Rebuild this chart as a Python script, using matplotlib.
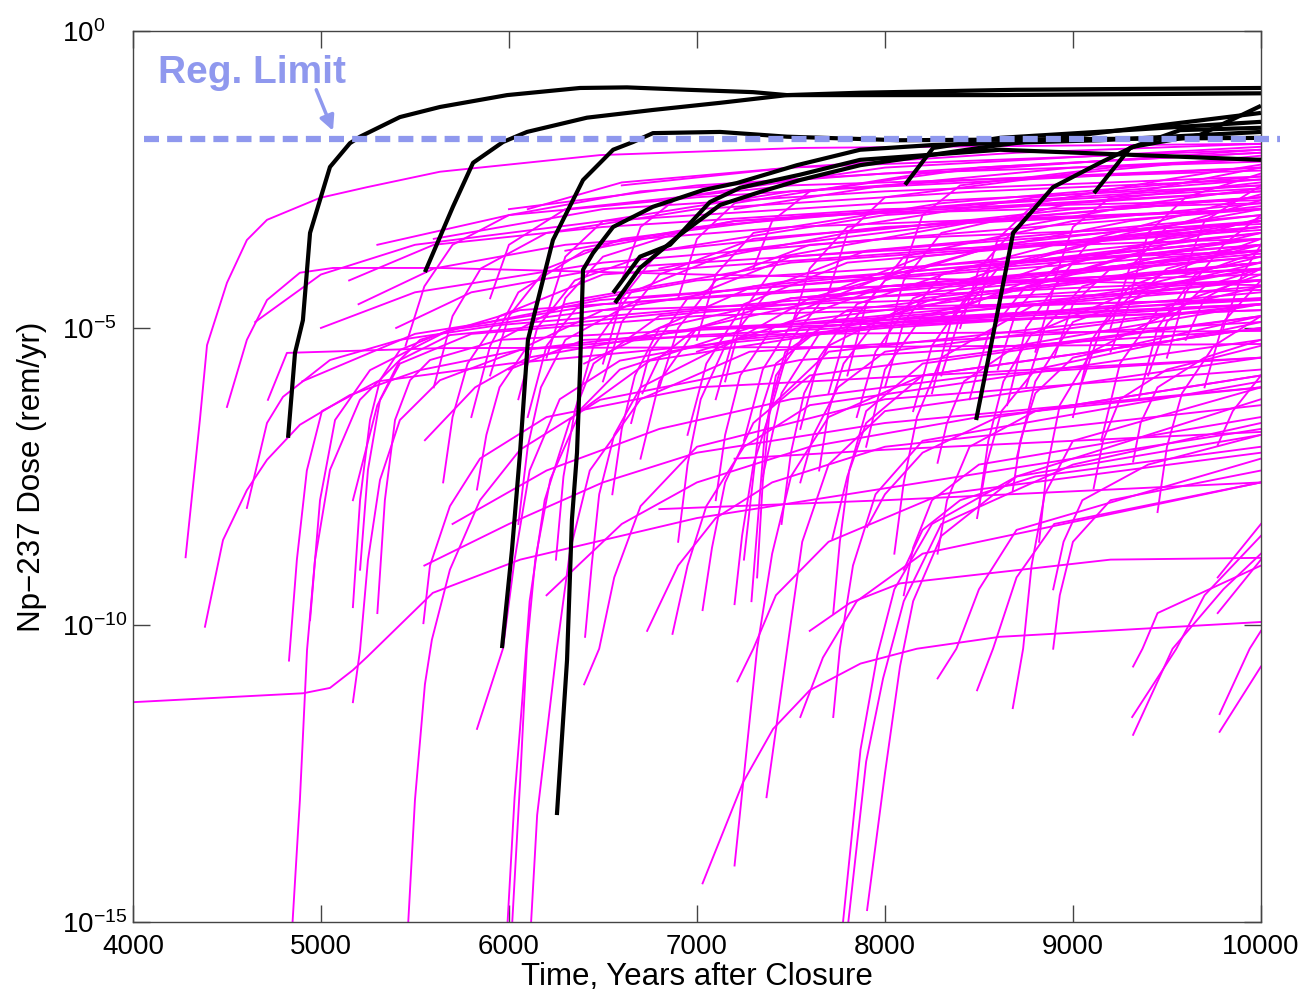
import numpy as np
import matplotlib
matplotlib.use("Agg")
import matplotlib.pyplot as plt
from matplotlib.ticker import FixedLocator, NullLocator, FixedFormatter

plt.rcParams['font.family'] = ['Liberation Sans', 'DejaVu Sans']
plt.rcParams['mathtext.fontset'] = 'custom'
plt.rcParams['mathtext.rm'] = 'Liberation Sans'
plt.rcParams['mathtext.it'] = 'Liberation Sans:italic'
plt.rcParams['mathtext.bf'] = 'Liberation Sans:bold'

# each run is a list of (year, log10 dose in rem/yr)

# realizations that exceed the limit (black)
black_runs = [
    [(4825, -6.85), (4862, -5.42), (4904, -4.87), (4942, -3.40), (5048, -2.29), (5154, -1.89), (5208, -1.78),
     (5420, -1.45), (5633, -1.28), (5990, -1.08), (6378, -0.96), (6628, -0.95), (6947, -0.99), (7298, -1.03),
     (7479, -1.08), (8600, -1.08), (10000, -1.05)],
    [(5553, -4.06), (5702, -2.96), (5809, -2.22), (5968, -1.87), (6096, -1.70), (6415, -1.46), (6766, -1.33),
     (7123, -1.21), (7479, -1.08), (7868, -1.04), (8700, -0.99), (10000, -0.96)],
    [(5963, -10.39), (6016, -8.74), (6059, -7.10), (6101, -5.20), (6234, -3.52), (6394, -2.51), (6554, -2.0),
     (6660, -1.87), (6766, -1.72), (7123, -1.70), (7479, -1.78), (8080, -1.84), (10000, -1.80)],
    [(6255, -13.2), (6309, -10.59), (6335, -8.23), (6362, -7.10), (6378, -5.71), (6394, -4.02), (6447, -3.74),
     (6554, -3.30), (6766, -2.96), (7032, -2.68), (7213, -2.56), (7532, -2.26), (7868, -2.0), (8256, -1.92),
     (9144, -1.84), (10000, -1.70)],
    [(6554, -4.41), (6697, -3.80), (6857, -3.60), (7069, -2.88), (7229, -2.64), (7548, -2.42), (7868, -2.17),
     (8612, -2.0), (10000, -2.17)],
    [(6564, -4.58), (6697, -3.99), (6910, -3.43), (7123, -2.93), (7336, -2.71), (7548, -2.51), (7868, -2.26),
     (8612, -1.92), (10000, -1.38)],
    [(8107, -2.59), (8256, -1.97), (8612, -1.80), (10000, -1.53)],
    [(8485, -6.55), (8570, -5.20), (8682, -3.40), (8894, -2.63), (9144, -2.22), (9320, -1.95), (9676, -1.75),
     (10000, -1.26)],
    [(9112, -2.73), (9304, -1.97), (9570, -1.67), (10000, -1.63)],
]

# early releases, left part of the plot
magenta_left = [
    [(4000, -11.3), (4905, -11.15), (5048, -11.06), (5170, -10.76), (5245, -10.54), (5595, -9.46), (6060, -8.9),
     (7000, -8.2), (8600, -7.4), (10000, -6.7)],
    [(4280, -8.86), (4356, -6.55), (4394, -5.29), (4500, -4.24), (4606, -3.52), (4713, -3.18), (4995, -2.81),
     (5245, -2.63), (5633, -2.37), (6484, -2.09), (7548, -1.97), (10000, -1.9)],
    [(4383, -10.03), (4479, -8.57), (4606, -7.73), (4713, -7.22), (4888, -6.63), (5154, -6.13), (5527, -5.71),
     (6059, -5.37), (7016, -5.12), (8612, -4.87), (10000, -4.7)],
    [(4500, -6.33), (4606, -5.2), (4713, -4.53), (4888, -4.07), (5064, -3.99), (5633, -3.99), (7016, -4.1),
     (10000, -4.28)],
    [(4606, -8.03), (4713, -6.6), (4798, -6.16), (5048, -5.54), (5420, -5.2), (5952, -4.95), (7548, -4.53),
     (10000, -4.19)],
    [(4718, -6.21), (4819, -5.42), (5633, -5.34), (7867, -5.32), (10000, -5.27)],
    [(4830, -16.0), (4888, -12.95), (4926, -10.42), (4968, -8.91), (5048, -7.39), (5207, -6.21), (5527, -5.2),
     (6059, -4.7), (7548, -4.36), (10000, -4.02)],
    [(4830, -10.6), (4872, -8.9), (4925, -7.4), (5005, -6.4), (5300, -5.9), (6000, -5.6), (8000, -5.0),
     (10000, -4.6)],
    [(4942, -9.92), (4995, -7.9), (5075, -6.55), (5261, -5.71), (5686, -5.03), (6484, -4.53), (10000, -3.69)],
    [(5170, -9.7), (5208, -7.9), (5261, -6.55), (5314, -5.88), (5420, -5.37), (5686, -5.03), (6484, -4.7),
     (10000, -4.36)],
    [(5208, -9.07), (5250, -7.39), (5314, -6.21), (5420, -5.54), (5686, -5.12), (7016, -4.7), (10000, -4.53)],
    [(5300, -9.8), (5340, -7.9), (5394, -6.55), (5474, -5.88), (5580, -5.54), (5952, -5.2), (10000, -4.53)],
    [(5447, -16.0), (5500, -12.95), (5553, -11.0), (5590, -10.25), (5686, -9.07), (5846, -7.9), (6059, -7.05),
     (6484, -6.21), (7548, -5.54), (10000, -5.03)],
    [(5170, -11.3), (5208, -10.42), (5250, -8.91), (5314, -7.56), (5420, -6.55), (5633, -5.88), (6059, -5.37),
     (7016, -5.03), (10000, -4.7)],
    [(5170, -7.9), (5300, -6.3), (5420, -5.6), (5800, -5.1), (7000, -4.8), (10000, -4.5)],
    [(5545, -9.97), (5580, -9.0), (5686, -8.0), (5846, -7.2), (6200, -6.5), (7000, -6.0), (10000, -5.5)],
    [(5553, -6.89), (5820, -6.0), (6100, -5.5), (7000, -5.0), (10000, -4.6)],
]

# releases from the middle of the period
magenta_mid = [
    [(5830, -11.75), (5968, -10.4), (6030, -8.9), (6110, -7.4), (6270, -6.2), (6590, -5.55), (7550, -5.0),
     (10000, -4.5)],
    [(5975, -16.0), (6030, -12.9), (6070, -11.3), (6110, -9.6), (6190, -7.9), (6325, -6.55), (6590, -5.7),
     (7280, -5.0), (10000, -4.2)],
    [(6000, -16.0), (6060, -12.6), (6095, -10.4), (6140, -8.9), (6220, -7.55), (6380, -6.4), (6750, -5.55),
     (8080, -4.9), (10000, -4.6)],
    [(6100, -16.0), (6150, -13.2), (6255, -10.4), (6325, -8.75), (6430, -7.4), (6700, -6.2), (7280, -5.4),
     (10000, -4.9)],
    [(6400, -11.0), (6480, -10.4), (6560, -9.2), (6700, -8.0), (7000, -7.0), (8000, -6.2), (10000, -5.7)],
    [(7030, -14.35), (7245, -12.65), (7405, -11.75), (7600, -11.1), (7870, -10.65), (8170, -10.4), (8610, -10.2),
     (10000, -9.95)],
    [(7200, -14.05), (7320, -10.4), (7400, -8.8), (7500, -7.5), (7700, -6.5), (8200, -5.8), (10000, -5.0)],
    [(7370, -12.9), (7480, -10.4), (7560, -8.6), (7700, -7.3), (8000, -6.4), (10000, -5.5)],
    [(7215, -10.95), (7300, -10.4), (7420, -9.5), (7700, -8.6), (8300, -7.8), (10000, -7.1)],
    [(7550, -11.55), (7670, -10.55), (7850, -9.6), (8200, -8.8), (10000, -7.6)],
    [(7725, -11.55), (7760, -10.4), (7830, -9.0), (7950, -7.8), (8200, -6.9), (10000, -5.9)],
    [(7745, -16.0), (7870, -12.1), (7960, -10.5), (8050, -9.4), (8250, -8.3), (8700, -7.5), (10000, -6.8)],
    [(7770, -16.0), (7900, -12.3), (7990, -10.9), (8100, -9.6), (8300, -8.3), (9000, -7.3), (10000, -6.6)],
    [(7905, -14.8), (8000, -12.5), (8080, -10.7), (8150, -9.6), (8300, -8.5), (8700, -7.5), (10000, -6.2)],
    [(5830, -7.72), (5880, -6.8), (5950, -6.0), (6100, -5.3), (6500, -4.7), (7500, -4.2), (10000, -3.6)],
    [(6405, -10.2), (6440, -9.0), (6480, -7.8), (6560, -6.8), (6700, -6.0), (7200, -5.2), (10000, -4.4)],
    [(6735, -10.1), (6900, -9.0), (7100, -8.2), (7400, -7.6), (8000, -7.0), (10000, -6.3)],
    [(6870, -10.15), (6950, -9.0), (7050, -8.0), (7250, -7.0), (7600, -6.3), (10000, -5.2)],
    [(7030, -9.75), (7080, -8.7), (7150, -7.6), (7300, -6.6), (7600, -5.8), (10000, -4.8)],
    [(7200, -9.65), (7240, -8.5), (7300, -7.3), (7400, -6.3), (7700, -5.4), (10000, -4.6)],
    [(7725, -9.8), (7760, -8.6), (7810, -7.4), (7900, -6.4), (8200, -5.6), (10000, -4.8)],
    [(6710, -6.1), (6800, -5.5), (7000, -5.0), (7500, -4.5), (10000, -3.8)],
    [(7550, -7.6), (7620, -6.8), (7750, -6.0), (8000, -5.4), (10000, -4.6)],
    [(7720, -8.55), (7800, -7.5), (7900, -6.6), (8200, -5.8), (10000, -5.0)],
    [(7290, -9.6), (7330, -8.0), (7360, -6.8), (7420, -5.8), (7600, -5.0), (10000, -4.2)],
    [(7320, -9.2), (7350, -7.6), (7390, -6.3), (7470, -5.4), (7800, -4.7), (10000, -3.9)],
    [(7250, -8.9), (7300, -7.5), (7340, -6.4), (7420, -5.6), (7700, -4.9), (10000, -4.3)],
    [(5550, -9.0), (6000, -8.3), (6500, -7.6), (7000, -7.1), (8000, -6.6), (10000, -6.0)],
    [(5700, -8.3), (6200, -7.4), (6800, -6.7), (7500, -6.2), (8500, -5.8), (10000, -5.5)],
    [(6200, -9.5), (6600, -8.3), (7000, -7.6), (7600, -7.0), (8500, -6.5), (10000, -6.0)],
    [(7600, -10.1), (7814, -9.63), (8080, -9.3), (9200, -8.9), (10000, -8.87)],
    [(6800, -8.05), (8000, -7.9), (9000, -7.75), (10000, -7.6)],
    [(7200, -7.2), (8000, -7.05), (9000, -6.9), (10000, -6.75)],
]

# late releases, right part of the plot
magenta_right = [
    [(8280, -10.9), (8380, -10.4), (8500, -9.4), (8700, -8.4), (10000, -7.2)],
    [(8490, -11.1), (8575, -10.4), (8700, -9.2), (8900, -8.3), (10000, -7.6)],
    [(8680, -11.4), (8735, -10.4), (8780, -9.0), (8850, -7.8), (9000, -6.9), (10000, -6.0)],
    [(9320, -10.7), (9370, -10.4), (9450, -9.8), (10000, -9.0)],
    [(9315, -11.55), (9550, -10.4), (9700, -9.5), (10000, -8.5)],
    [(9320, -11.85), (9530, -10.4), (9800, -9.4), (10000, -8.8)],
    [(9780, -11.5), (9940, -10.4), (10000, -10.1)],
    [(9780, -11.8), (10000, -10.7)],
    [(7905, -8.35), (8000, -7.8), (8200, -7.1), (8600, -6.5), (10000, -5.8)],
    [(8100, -9.07), (8200, -8.4), (8400, -7.9), (8800, -7.5), (10000, -7.0)],
    [(8100, -9.5), (8150, -8.7), (8250, -7.9), (8500, -7.3), (10000, -6.5)],
    [(8280, -7.27), (8330, -6.6), (8420, -5.9), (8700, -5.3), (10000, -4.6)],
    [(8280, -8.8), (8330, -7.9), (8450, -7.0), (8800, -6.4), (10000, -5.8)],
    [(8490, -8.2), (8540, -7.3), (8620, -6.4), (8800, -5.7), (10000, -4.9)],
    [(8680, -7.73), (8720, -6.9), (8800, -6.1), (9000, -5.5), (10000, -4.8)],
    [(8895, -9.4), (8950, -8.6), (9050, -7.9), (9400, -7.3), (10000, -6.8)],
    [(8895, -10.4), (8930, -9.5), (9000, -8.6), (9200, -7.9), (10000, -7.4)],
    [(9110, -7.7), (9160, -6.9), (9250, -6.2), (9500, -5.7), (10000, -5.3)],
    [(9320, -7.25), (9360, -6.6), (9450, -6.0), (9700, -5.5), (10000, -5.2)],
    [(9770, -6.97), (9850, -6.4), (10000, -5.8)],
    [(9770, -9.2), (10000, -8.3)],
    [(9770, -9.8), (10000, -8.9)],
]

# runs that level off in the band just under the limit
magenta_top = [
    [(5450, -5.3), (5550, -4.3), (5700, -3.6), (6000, -3.1), (6700, -2.7), (8000, -2.4), (10000, -2.2)],
    [(5600, -6.0), (5700, -4.8), (5850, -4.0), (6200, -3.4), (7000, -3.0), (8500, -2.7), (10000, -2.5)],
    [(5800, -6.5), (5900, -5.3), (6050, -4.4), (6400, -3.7), (7200, -3.2), (10000, -2.7)],
    [(5900, -5.8), (6000, -4.8), (6200, -4.0), (6600, -3.5), (7600, -3.1), (10000, -2.9)],
    [(6050, -6.2), (6150, -5.0), (6350, -4.2), (6800, -3.7), (8000, -3.3), (10000, -3.0)],
    [(6200, -5.5), (6300, -4.5), (6500, -3.8), (7000, -3.3), (8500, -2.9), (10000, -2.6)],
    [(6350, -6.4), (6450, -5.3), (6650, -4.4), (7200, -3.7), (8500, -3.2), (10000, -3.0)],
    [(6500, -5.9), (6600, -4.9), (6800, -4.1), (7300, -3.5), (10000, -2.8)],
    [(6650, -6.6), (6750, -5.4), (6950, -4.5), (7500, -3.8), (10000, -3.2)],
    [(6800, -6.0), (6900, -5.0), (7100, -4.2), (7600, -3.6), (10000, -3.0)],
    [(6950, -6.8), (7050, -5.6), (7250, -4.6), (7800, -3.9), (10000, -3.3)],
    [(7100, -6.2), (7200, -5.1), (7400, -4.3), (7900, -3.7), (10000, -3.1)],
    [(7250, -6.9), (7350, -5.7), (7550, -4.7), (8100, -4.0), (10000, -3.4)],
    [(7400, -6.3), (7500, -5.2), (7700, -4.4), (8200, -3.8), (10000, -3.2)],
    [(7550, -6.7), (7650, -5.5), (7850, -4.6), (8400, -4.0), (10000, -3.5)],
    [(7700, -6.1), (7800, -5.0), (8000, -4.2), (8600, -3.6), (10000, -3.1)],
    [(7850, -6.5), (7950, -5.4), (8150, -4.5), (8700, -3.9), (10000, -3.4)],
    [(8000, -6.0), (8100, -4.9), (8300, -4.1), (8900, -3.6), (10000, -3.2)],
    [(8150, -6.4), (8250, -5.3), (8450, -4.4), (9000, -3.8), (10000, -3.5)],
    [(8300, -5.8), (8400, -4.8), (8600, -4.0), (9200, -3.5), (10000, -3.2)],
    [(8450, -6.2), (8550, -5.1), (8750, -4.3), (9300, -3.8), (10000, -3.5)],
    [(8600, -5.7), (8700, -4.7), (8900, -4.0), (9500, -3.5), (10000, -3.3)],
    [(8750, -6.0), (8850, -5.0), (9050, -4.3), (9600, -3.8), (10000, -3.6)],
    [(8900, -5.5), (9000, -4.6), (9200, -4.0), (10000, -3.4)],
    [(9050, -5.9), (9150, -5.0), (9350, -4.3), (10000, -3.8)],
    [(9200, -5.4), (9300, -4.6), (9500, -4.0), (10000, -3.6)],
    [(9400, -5.8), (9500, -4.9), (9700, -4.3), (10000, -4.0)],
    [(9600, -5.2), (9700, -4.5), (10000, -4.0)],
    [(4650, -4.9), (5000, -4.1), (5500, -3.6), (6500, -3.2), (8000, -2.9), (10000, -2.6)],
    [(5200, -4.6), (5600, -4.0), (6300, -3.6), (7500, -3.3), (10000, -3.0)],
    [(5400, -5.0), (5800, -4.4), (6500, -4.0), (8000, -3.7), (10000, -3.5)],
    [(5950, -5.2), (6300, -4.6), (7000, -4.2), (8500, -3.9), (10000, -3.7)],
    [(6400, -5.6), (6800, -5.0), (7500, -4.5), (8800, -4.2), (10000, -4.0)],
    [(7000, -5.4), (7500, -4.9), (8500, -4.5), (10000, -4.2)],
    [(4900, -5.9), (5500, -5.1), (6500, -4.6), (8000, -4.3), (10000, -4.1)],
    [(6000, -5.7), (6400, -5.2), (7500, -5.1), (10000, -5.05)],
    [(6600, -2.6), (7500, -2.3), (8700, -2.05), (10000, -1.9)],
    [(6000, -3.0), (7000, -2.6), (8500, -2.3), (10000, -2.05)],
    [(7200, -3.0), (8000, -2.6), (9000, -2.3), (10000, -2.15)],
    [(6050, -8.3), (6100, -7.0), (6170, -6.0), (6300, -5.2), (6700, -4.5), (10000, -3.6)],
    [(6250, -8.9), (6290, -7.5), (6350, -6.4), (6450, -5.6), (6800, -4.8), (10000, -3.9)],
    [(6550, -7.8), (6600, -6.7), (6670, -5.8), (6800, -5.0), (7300, -4.3), (10000, -3.5)],
    [(6900, -8.6), (6950, -7.3), (7020, -6.2), (7150, -5.3), (7600, -4.5), (10000, -3.7)],
    [(7100, -7.9), (7150, -6.8), (7230, -5.8), (7400, -5.0), (8000, -4.3), (10000, -3.8)],
    [(7450, -8.3), (7500, -7.1), (7570, -6.1), (7700, -5.3), (8200, -4.5), (10000, -3.9)],
    [(7650, -7.4), (7700, -6.4), (7780, -5.6), (7950, -4.9), (8500, -4.2), (10000, -3.7)],
    [(8050, -8.8), (8100, -7.6), (8170, -6.5), (8300, -5.5), (8800, -4.6), (10000, -4.0)],
    [(8500, -8.0), (8550, -6.9), (8630, -5.9), (8780, -5.1), (9300, -4.4), (10000, -4.0)],
    [(8820, -8.6), (8860, -7.4), (8930, -6.3), (9100, -5.4), (9600, -4.6), (10000, -4.3)],
    [(9450, -8.1), (9500, -7.0), (9580, -6.1), (9750, -5.3), (10000, -4.8)],
    [(5650, -7.6), (5700, -6.5), (5780, -5.6), (5950, -4.8), (6500, -4.1), (10000, -3.3)],
]

# the crowded runs that end between 1e-4 and 1e-2 at 10000 years
magenta_upper = [
    [(6600, -4.2), (6700, -3.3), (6900, -2.8), (8000, -2.3), (10000, -1.95)],
    [(6900, -4.5), (7000, -3.5), (7200, -2.9), (8200, -2.4), (10000, -2.0)],
    [(7300, -4.0), (7400, -3.2), (7600, -2.7), (8500, -2.3), (10000, -2.05)],
    [(7700, -4.4), (7800, -3.4), (8000, -2.8), (9000, -2.4), (10000, -2.1)],
    [(8100, -4.0), (8200, -3.1), (8400, -2.6), (9200, -2.3), (10000, -2.15)],
    [(8500, -4.6), (8600, -3.5), (8800, -2.9), (9500, -2.5), (10000, -2.25)],
    [(8900, -4.2), (9000, -3.3), (9200, -2.8), (10000, -2.3)],
    [(9300, -4.5), (9400, -3.4), (9600, -2.8), (10000, -2.4)],
    [(9600, -4.0), (9700, -3.2), (10000, -2.6)],
    [(6200, -4.8), (6300, -3.8), (6500, -3.2), (7500, -2.7), (10000, -2.3)],
    [(5900, -4.5), (6000, -3.6), (6300, -3.0), (7500, -2.6), (10000, -2.35)],
    [(7000, -5.2), (7100, -4.1), (7300, -3.4), (8300, -2.9), (10000, -2.45)],
    [(7500, -5.0), (7600, -4.0), (7800, -3.3), (8800, -2.8), (10000, -2.5)],
    [(8000, -5.3), (8100, -4.2), (8300, -3.4), (9000, -2.9), (10000, -2.55)],
    [(8400, -5.0), (8500, -4.0), (8700, -3.3), (9400, -2.9), (10000, -2.65)],
    [(8800, -5.4), (8900, -4.3), (9100, -3.5), (9700, -3.0), (10000, -2.75)],
    [(9200, -5.0), (9300, -4.0), (9500, -3.3), (10000, -2.85)],
    [(9500, -5.5), (9600, -4.4), (9800, -3.6), (10000, -3.1)],
    [(9800, -5.0), (9900, -4.1), (10000, -3.6)],
    [(6500, -5.6), (6600, -4.5), (6800, -3.7), (8000, -3.1), (10000, -2.7)],
    [(7150, -5.9), (7250, -4.7), (7450, -3.8), (8500, -3.2), (10000, -2.8)],
    [(7800, -5.8), (7900, -4.6), (8100, -3.8), (9000, -3.2), (10000, -2.9)],
    [(8250, -6.1), (8350, -4.9), (8550, -4.0), (9300, -3.4), (10000, -3.0)],
    [(8650, -6.3), (8750, -5.0), (8950, -4.1), (9600, -3.5), (10000, -3.15)],
    [(9000, -6.5), (9100, -5.2), (9300, -4.3), (10000, -3.5)],
    [(9350, -6.2), (9450, -5.0), (9650, -4.1), (10000, -3.7)],
    [(9700, -6.0), (9800, -4.9), (10000, -4.2)],
    [(5300, -3.6), (6000, -3.1), (7000, -2.8), (8500, -2.5), (10000, -2.3)],
    [(5600, -3.5), (6500, -3.0), (8000, -2.7), (10000, -2.45)],
    [(6300, -3.7), (7200, -3.2), (8600, -2.9), (10000, -2.65)],
    [(6800, -4.0), (7800, -3.4), (9000, -3.0), (10000, -2.8)],
    [(7600, -4.5), (8500, -3.7), (9300, -3.2), (10000, -2.95)],
    [(8300, -4.8), (9000, -3.9), (9600, -3.4), (10000, -3.2)],
    [(6100, -6.5), (6200, -5.3), (6400, -4.5), (7500, -3.9), (10000, -3.35)],
    [(7900, -7.0), (8000, -5.7), (8200, -4.8), (9000, -4.1), (10000, -3.6)],
    [(8700, -7.2), (8800, -5.9), (9000, -4.9), (9600, -4.2), (10000, -3.9)],
    [(9150, -6.9), (9250, -5.6), (9450, -4.7), (10000, -4.1)],
    [(6700, -7.2), (6800, -5.9), (7000, -5.0), (8000, -4.3), (10000, -3.75)],
    [(7350, -7.5), (7450, -6.1), (7650, -5.1), (8500, -4.4), (10000, -3.9)],
    [(5000, -5.0), (5500, -4.4), (6500, -3.9), (8000, -3.5), (10000, -3.25)],
    [(5150, -4.2), (5600, -3.6), (6500, -3.3), (8000, -3.0), (10000, -2.85)],
    [(6100, -3.0), (6600, -2.55), (7500, -2.3), (10000, -2.0)],
]

reg_limit = 0.015
reg_span = [4060, 10100]
reg_color = '#8f98ee'

x_ticks = [4000, 5000, 6000, 7000, 8000, 9000, 10000]
y_ticks = [1e-15, 1e-10, 1e-5, 1e0]
y_tick_labels = [r'$10^{-15}$', r'$10^{-10}$', r'$10^{-5}$', r'$10^{0}$']

fig = plt.figure(figsize=(13.06, 9.92), dpi=100)
ax = fig.add_axes([0.1018, 0.0706, 0.8637, 0.8982])

for run in magenta_left + magenta_mid + magenta_right + magenta_top + magenta_upper:
    t, d = zip(*run)
    ax.plot(t, 10 ** np.array(d), color='#ff00ff', lw=1.35, zorder=2)

for run in black_runs:
    t, d = zip(*run)
    ax.plot(t, 10 ** np.array(d), color='black', lw=3.0, zorder=3,
            solid_joinstyle='round', solid_capstyle='butt')

# regulatory limit
ax.plot(reg_span, [reg_limit, reg_limit], color=reg_color, lw=4.5,
        dashes=(2.4, 1.3), zorder=4, clip_on=False)
ax.text(4135, 10 ** -0.87, 'Reg. Limit', color=reg_color, fontsize=28,
        fontweight='bold', ha='left', va='baseline', zorder=5)
ax.annotate('', xy=(5064, 10 ** -1.68), xytext=(4975, 10 ** -0.99),
            arrowprops=dict(arrowstyle='-|>', color=reg_color, lw=2.5,
                            mutation_scale=22, shrinkA=0, shrinkB=0), zorder=5)

ax.set_yscale('log')
ax.set_xlim(4000, 10000)
ax.set_ylim(1e-15, 1e0)
ax.xaxis.set_major_locator(FixedLocator(x_ticks))
ax.yaxis.set_major_locator(FixedLocator(y_ticks))
ax.yaxis.set_major_formatter(FixedFormatter(y_tick_labels))
ax.yaxis.set_minor_locator(NullLocator())
ax.xaxis.set_minor_locator(NullLocator())
ax.tick_params(direction='in', length=12, width=1, color='#444444',
               labelsize=20, top=True, right=True)
ax.tick_params(axis='x', pad=9)
# the y labels are left aligned in the original
ax.tick_params(axis='y', pad=51)
for lab in ax.get_yticklabels():
    lab.set_horizontalalignment('left')
for s in ax.spines.values():
    s.set_color('#444444')
    s.set_linewidth(1.0)

ax.set_xlabel('Time, Years after Closure', fontsize=22.5, labelpad=1)
ax.set_ylabel('Np\u2212237 Dose (rem/yr)', fontsize=22.5)
ax.yaxis.set_label_coords(-0.076, 0.5)

fig.savefig('out.png', dpi=100)
